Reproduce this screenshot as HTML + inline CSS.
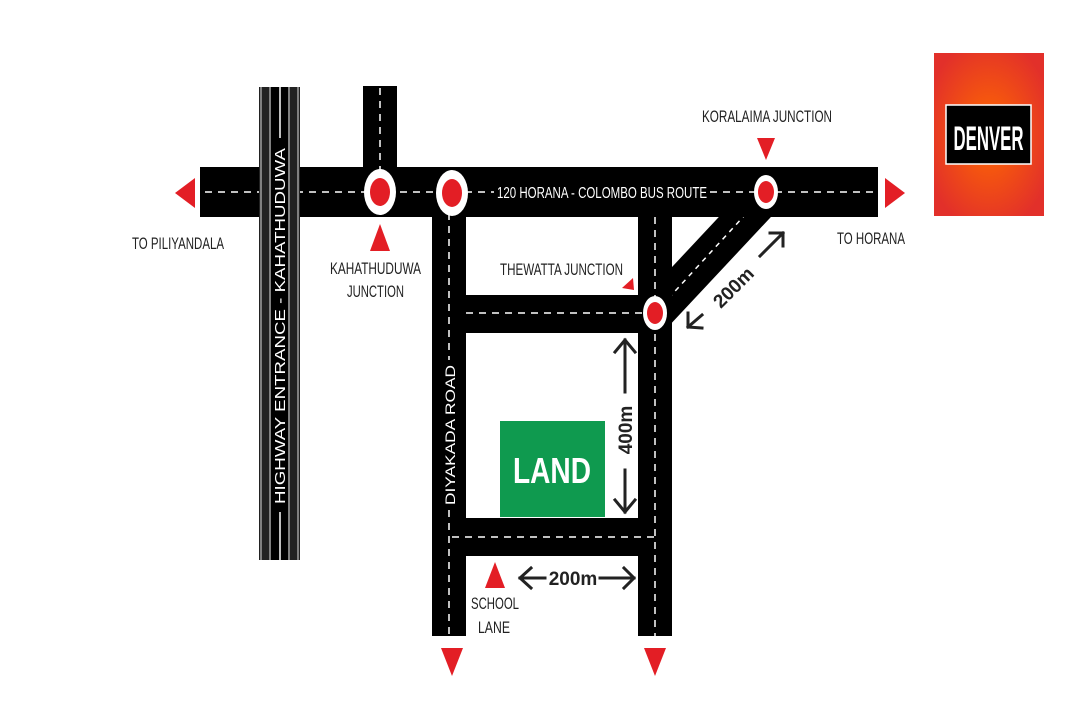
<!DOCTYPE html>
<html><head><style>
body{margin:0;background:#fff}
svg{display:block}
text{font-family:"Liberation Sans",sans-serif}
</style></head><body>
<svg width="1080" height="720" viewBox="0 0 1080 720">
<rect width="1080" height="720" fill="#fff"/>
<line x1="655" y1="313" x2="772" y2="188" stroke="#000" stroke-width="38"/>
<line x1="655" y1="313" x2="766" y2="192" stroke="#fff" stroke-width="1.5" stroke-dasharray="5,5"/>
<rect x="200" y="167" width="678" height="50" fill="#000"/>
<rect x="363" y="86" width="34" height="90" fill="#000"/>
<rect x="432" y="192" width="34" height="444" fill="#000"/>
<rect x="638" y="200" width="34" height="436" fill="#000"/>
<rect x="466" y="295" width="180" height="38" fill="#000"/>
<rect x="432" y="518" width="240" height="38" fill="#000"/>
<g stroke="#fff" stroke-width="1.5" stroke-dasharray="7,6" fill="none">
<line x1="205" y1="192" x2="494" y2="192"/>
<line x1="710" y1="192" x2="875" y2="192"/>
<line x1="380" y1="88" x2="380" y2="175"/>
<line x1="449" y1="200" x2="449" y2="360"/>
<line x1="449" y1="510" x2="449" y2="636"/>
<line x1="655" y1="217" x2="655" y2="636"/>
<line x1="466" y1="313" x2="645" y2="313"/>
<line x1="452" y1="537" x2="655" y2="537"/>
</g>
<rect x="259" y="87" width="41" height="473" fill="#222"/>
<g stroke="#ddd" stroke-width="1">
<line x1="261" y1="87" x2="261" y2="560"/><line x1="298" y1="87" x2="298" y2="560"/>
<line x1="270" y1="87" x2="270" y2="560"/><line x1="289" y1="87" x2="289" y2="560"/>
</g>
<rect x="271" y="87" width="17" height="473" fill="#000"/>
<line x1="280" y1="87" x2="280" y2="138" stroke="#fff" stroke-width="1.5"/>
<line x1="280" y1="512" x2="280" y2="560" stroke="#fff" stroke-width="1.5"/>
<text transform="translate(285,326) rotate(-90)" text-anchor="middle" font-size="15" fill="#fff" textLength="356" lengthAdjust="spacingAndGlyphs">HIGHWAY ENTRANCE - KAHATHUDUWA</text>
<text transform="translate(455,435) rotate(-90)" text-anchor="middle" font-size="14" fill="#fff" textLength="140" lengthAdjust="spacingAndGlyphs">DIYAKADA ROAD</text>
<rect x="494" y="183" width="216" height="18" fill="#000"/>
<text x="602" y="198" text-anchor="middle" font-size="16" fill="#fff" textLength="210" lengthAdjust="spacingAndGlyphs">120 HORANA - COLOMBO BUS ROUTE</text>
<g fill="#fff"><ellipse cx="380" cy="192" rx="16" ry="23"/><ellipse cx="452" cy="193" rx="16" ry="23"/><ellipse cx="766" cy="192" rx="12" ry="17"/><ellipse cx="655" cy="313" rx="12" ry="17"/></g>
<g fill="#e31e25"><ellipse cx="380" cy="192" rx="10" ry="14"/><ellipse cx="452" cy="193" rx="10" ry="14"/><ellipse cx="766" cy="192" rx="8" ry="11"/><ellipse cx="655" cy="313" rx="8" ry="11"/></g>
<g fill="#e31e25">
<polygon points="175,193 195,178 195,208"/>
<polygon points="905,193 885,178 885,208"/>
<polygon points="380,224 370,251 390,251"/>
<polygon points="757,138 775,138 766,160"/>
<polygon points="633,278 622,288 634,290"/>
<polygon points="495,562 485,588 505,588"/>
<polygon points="441,648 463,648 452,676"/>
<polygon points="644,648 666,648 655,676"/>
</g>
<rect x="500" y="421" width="105" height="96" fill="#0f9a4f"/>
<text x="552" y="483" text-anchor="middle" font-size="36" font-weight="bold" fill="#fff" textLength="78" lengthAdjust="spacingAndGlyphs">LAND</text>
<g stroke="#222" stroke-width="3" fill="none" stroke-linecap="square">
<line x1="625" y1="340" x2="625" y2="392"/><polyline points="615,352 625,340 635,352"/>
<line x1="625" y1="470" x2="625" y2="512"/><polyline points="615,500 625,512 635,500"/>
<line x1="520" y1="578" x2="545" y2="578"/><polyline points="531,568 520,578 531,588"/>
<line x1="600" y1="578" x2="634" y2="578"/><polyline points="624,568 634,578 624,588"/>
<line x1="688" y1="327" x2="702" y2="315"/><polyline points="688,313 688,327 702,328"/>
<line x1="760" y1="256" x2="783" y2="233"/><polyline points="770,233 783,233 783,246"/>
</g>
<text transform="translate(632,430) rotate(-90)" text-anchor="middle" font-size="19" font-weight="bold" fill="#222">400m</text>
<text x="573" y="585" text-anchor="middle" font-size="19" font-weight="bold" fill="#222">200m</text>
<text transform="translate(738,292) rotate(-45)" text-anchor="middle" font-size="19" font-weight="bold" fill="#222">200m</text>
<g font-size="17" fill="#222">
<text x="132" y="249" textLength="92" lengthAdjust="spacingAndGlyphs">TO PILIYANDALA</text>
<text x="837" y="244" textLength="68" lengthAdjust="spacingAndGlyphs">TO HORANA</text>
<text x="330" y="274" textLength="91" lengthAdjust="spacingAndGlyphs">KAHATHUDUWA</text>
<text x="347" y="297" textLength="57" lengthAdjust="spacingAndGlyphs">JUNCTION</text>
<text x="702" y="122" textLength="130" lengthAdjust="spacingAndGlyphs">KORALAIMA JUNCTION</text>
<text x="500" y="275" textLength="123" lengthAdjust="spacingAndGlyphs">THEWATTA JUNCTION</text>
<text x="471" y="609" textLength="48" lengthAdjust="spacingAndGlyphs">SCHOOL</text>
<text x="478" y="633" textLength="32" lengthAdjust="spacingAndGlyphs">LANE</text>
</g>
<defs><radialGradient id="g" cx="50%" cy="50%" r="60%"><stop offset="0" stop-color="#ff6a00"/><stop offset="1" stop-color="#e2302a"/></radialGradient></defs>
<rect x="934" y="53" width="110" height="163" fill="url(#g)"/>
<rect x="946" y="105" width="85" height="59" fill="#000" stroke="#fff" stroke-width="1.5"/>
<text x="988.5" y="150" text-anchor="middle" font-size="34" font-weight="bold" fill="#fff" textLength="70" lengthAdjust="spacingAndGlyphs">DENVER</text>
</svg>
</body></html>
